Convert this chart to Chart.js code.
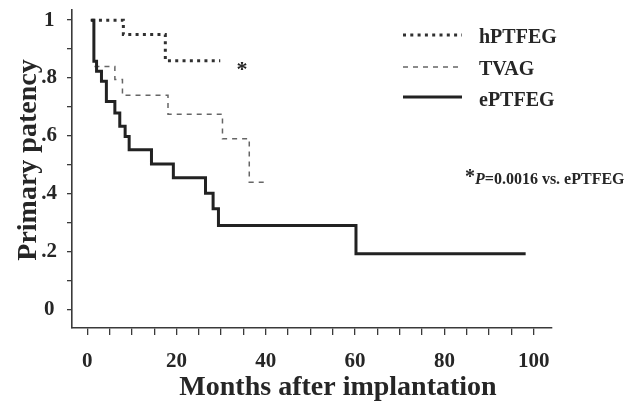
<!DOCTYPE html>
<html>
<head>
<meta charset="utf-8">
<title>Primary patency</title>
<script src="https://cdn.jsdelivr.net/npm/chart.js@4.4.0/dist/chart.umd.min.js"></script>
<style>
  html, body { margin: 0; padding: 0; background: #fff; }
  #wrap { width: 634px; height: 407px; }
</style>
</head>
<body>
<div id="wrap"><canvas id="km" width="634" height="407"></canvas></div>
<script>
// Kaplan-Meier curves (months, primary patency)
const monthsHPTFEG = [1.0, 8.1, 17.5, 29.8];
const patencyHPTFEG = [1, 0.95, 0.86, 0.86];

const monthsTVAG = [0.8, 1.5, 6.2, 7.9, 18.1, 30.3, 36.3, 40.1];
const patencyTVAG = [1, 0.84, 0.795, 0.74, 0.675, 0.59, 0.44, 0.44];

const monthsEPTFEG = [0.8, 1.5, 2.1, 3.2, 4.3, 6.2, 7.3, 8.5, 9.4, 14.4, 19.3, 26.5, 28.2, 29.4, 60.2, 98.2];
const patencyEPTFEG = [1, 0.858, 0.823, 0.789, 0.719, 0.679, 0.633, 0.598, 0.552, 0.503, 0.455, 0.402, 0.348, 0.29, 0.193, 0.193];

const seriesNames = ['hPTFEG', 'TVAG', 'ePTFEG'];

// axis ticks
const xTickValues = [0, 5, 10, 15, 20, 25, 30, 35, 40, 45, 50, 55, 60, 65, 70, 75, 80, 85, 90, 95, 100];
const xLabelValues = [0, 20, 40, 60, 80, 100];
const xTickLabels = ['0', '20', '40', '60', '80', '100'];
const yTickValues = [0, 0.1, 0.2, 0.3, 0.4, 0.5, 0.6, 0.7, 0.8, 0.9, 1];
const yLabelValues = [0, 0.2, 0.4, 0.6, 0.8, 1];
const yTickLabels = ['0', '.2', '.4', '.6', '.8', '1'];

const xTitle = 'Months after implantation';
const yTitle = 'Primary patency';
const footnote = '=0.0016 vs. ePTFEG';

const ink = '#262626';
const axisInk = '#3a3a3a';
const serif = '"Liberation Serif", "Times New Roman", serif';

function toPoints(xs, ys) {
  return xs.map((x, i) => ({ x: x, y: ys[i] }));
}

function labelFor(values, labels, v) {
  const i = values.findIndex(t => Math.abs(t - v) < 1e-6);
  return i >= 0 ? labels[i] : '';
}

// titles, legend and the p-value note
const decor = {
  id: 'decor',
  beforeDraw(chart) {
    const ctx = chart.ctx;
    ctx.save();
    ctx.fillStyle = '#fff';
    ctx.fillRect(0, 0, chart.width, chart.height);
    ctx.restore();
  },
  afterDraw(chart) {
    const ctx = chart.ctx;
    ctx.save();
    ctx.fillStyle = ink;
    ctx.textBaseline = 'alphabetic';

    // x title
    ctx.font = 'bold 28px ' + serif;
    ctx.textAlign = 'center';
    ctx.fillText(xTitle, 338, 395);

    // y title
    ctx.save();
    ctx.translate(36, 160);
    ctx.rotate(-Math.PI / 2);
    ctx.fillText(yTitle, 0, 0);
    ctx.restore();

    // legend
    const sampleY = [35, 67, 97];
    const textY = [43, 74.5, 105.5];
    chart.data.datasets.forEach((ds, i) => {
      ctx.save();
      ctx.strokeStyle = ds.borderColor;
      ctx.lineWidth = ds.borderWidth;
      ctx.setLineDash(ds.borderDash || []);
      ctx.beginPath();
      ctx.moveTo(403, sampleY[i]);
      ctx.lineTo(462, sampleY[i]);
      ctx.stroke();
      ctx.restore();
      ctx.font = 'bold 20px ' + serif;
      ctx.textAlign = 'left';
      ctx.fillText(ds.label, 479, textY[i]);
    });

    // asterisk next to hPTFEG
    ctx.font = 'bold 22px ' + serif;
    ctx.textAlign = 'center';
    ctx.fillText('*', 242, 76);

    // footnote
    ctx.font = 'bold 20px ' + serif;
    ctx.textAlign = 'left';
    ctx.fillText('*', 465, 183);
    ctx.font = 'italic bold 16px ' + serif;
    ctx.fillText('P', 475, 184);
    const pw = ctx.measureText('P').width;
    ctx.font = 'bold 16px ' + serif;
    ctx.fillText(footnote, 475 + pw, 184);
    ctx.restore();
  }
};

const ctx = document.getElementById('km').getContext('2d');
new Chart(ctx, {
  type: 'line',
  data: {
    datasets: [
      {
        label: seriesNames[0],
        data: toPoints(monthsHPTFEG, patencyHPTFEG),
        borderColor: '#303030',
        borderWidth: 3,
        borderDash: [3, 4.3],
        stepped: 'before',
        pointRadius: 0,
        fill: false,
        order: 1
      },
      {
        label: seriesNames[1],
        data: toPoints(monthsTVAG, patencyTVAG),
        borderColor: '#666',
        borderWidth: 1.5,
        borderDash: [5, 5],
        stepped: 'before',
        pointRadius: 0,
        fill: false,
        order: 2
      },
      {
        label: seriesNames[2],
        data: toPoints(monthsEPTFEG, patencyEPTFEG),
        borderColor: '#222',
        borderWidth: 3,
        stepped: 'before',
        pointRadius: 0,
        fill: false,
        order: 0
      }
    ]
  },
  options: {
    responsive: false,
    animation: false,
    events: [],
    layout: { padding: { top: 10, right: 82, bottom: 0, left: 0 } },
    plugins: {
      legend: { display: false },
      tooltip: { enabled: false }
    },
    scales: {
      x: {
        type: 'linear',
        min: -3.4,
        max: 104.1,
        afterBuildTicks: s => { s.ticks = xTickValues.map(v => ({ value: v })); },
        afterFit: s => { s.height = 79; s.paddingLeft = 0; s.paddingRight = 0; },
        grid: { drawOnChartArea: false, drawTicks: true, tickLength: 7, color: axisInk, lineWidth: 1.3 },
        border: { display: true, color: axisInk, width: 1.6 },
        ticks: {
          autoSkip: false,
          maxRotation: 0,
          padding: 14,
          color: ink,
          font: { family: serif, size: 21, weight: 'bold' },
          callback: v => labelFor(xLabelValues, xTickLabels, v)
        }
      },
      y: {
        type: 'linear',
        min: -0.064,
        max: 1.035,
        afterBuildTicks: s => { s.ticks = yTickValues.map(v => ({ value: v })); },
        afterFit: s => { s.width = 72; s.paddingTop = 0; s.paddingBottom = 0; },
        grid: { drawOnChartArea: false, drawTicks: true, tickLength: 5, color: axisInk, lineWidth: 1.3 },
        border: { display: true, color: axisInk, width: 1.6 },
        ticks: {
          autoSkip: false,
          crossAlign: 'center',
          padding: 10,
          color: ink,
          font: { family: serif, size: 21, weight: 'bold' },
          callback: v => labelFor(yLabelValues, yTickLabels, v)
        }
      }
    }
  },
  plugins: [decor]
});
</script>
</body>
</html>
